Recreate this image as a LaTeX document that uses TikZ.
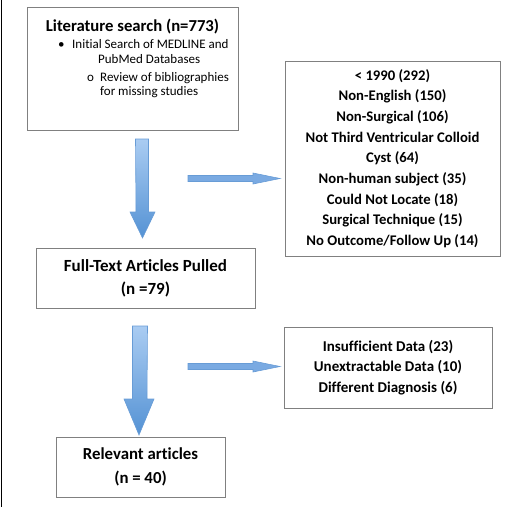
\documentclass[tikz,border=0pt]{standalone}
\usepackage{fontspec}
\setmainfont{Carlito}[Ligatures=NoCommon]
\usetikzlibrary{calc}
\definecolor{boxgray}{RGB}{128,128,128}
\definecolor{arrtop}{RGB}{170,204,242}
\definecolor{arrbot}{RGB}{84,146,212}
\definecolor{arrline}{RGB}{104,156,214}
\definecolor{thinarr}{RGB}{122,170,226}
\begin{document}
\begin{tikzpicture}[x=1pt, y=-1pt,
	box/.style={draw=boxgray, line width=0.9pt, fill=white, inner sep=0pt},
	bullettext/.style={font=\fontsize{13}{15}\selectfont, anchor=west, inner sep=0pt},
	bigarrow/.style={top color=arrtop, bottom color=arrbot, draw=arrline, line width=0.6pt},
	thinarrow/.style={fill=thinarr, draw=arrline, line width=0.6pt}]
	\useasboundingbox (0, 0) rectangle (515, 507);
	\draw[line width=1.5pt] (1.5, 0) -- (1.5, 507);

	% literature search
	\node[box, minimum width=211, minimum height=123] (lit) at (132.5, 68.5) {};
	\node[font=\fontsize{16.7}{19}\selectfont\bfseries] (littitle) at (132.5, 27) {Literature search (n=773)};
	\node[bullettext] (bula) at (58, 44) {\makebox[14pt][l]{\textbullet}Initial Search of MEDLINE and};
	\node[bullettext] (bulb) at (98, 59) {PubMed Databases};
	\node[bullettext] (bulc) at (87, 78) {\makebox[13pt][l]{o}Review of bibliographies};
	\node[bullettext] (buld) at (100, 92.5) {for missing studies};

	% exclusions
	\node[box, font=\fontsize{14.7}{20.7}\selectfont\bfseries, align=center, minimum width=215, minimum height=195] (excla) at (392.5, 158.5) {%
		< 1990 (292)\\ Non-English (150)\\ Non-Surgical (106)\\ Not Third Ventricular Colloid\\ Cyst (64)\\
		Non-human subject (35)\\ Could Not Locate (18)\\ Surgical Technique (15)\\ No Outcome/Follow Up (14)};
	\node[box, font=\fontsize{17}{23}\selectfont\bfseries, align=center, minimum width=219, minimum height=60] (full) at (145.5, 278) {Full-Text Articles Pulled\\ (n =79)};
	\node[box, font=\fontsize{15}{20.5}\selectfont\bfseries, align=center, minimum width=208, minimum height=81] (exclb) at (388, 367.5) {Insufficient Data (23)\\ Unextractable Data (10)\\ Different Diagnosis (6)};
	\node[box, font=\fontsize{16.8}{24}\selectfont\bfseries, align=center, minimum width=169, minimum height=60] (rel) at (140.5, 467) {Relevant articles\\ (n = 40)};

	% block arrows
	\coordinate (da) at (142, 139);
	\coordinate (db) at (142.5, 238);
	\shade[bigarrow] ($(da)+(-6.5,0)$) -- ($(da)+(6.5,0)$) -- ($(db)+(6,-26)$) -- ($(db)+(12.5,-26)$) -- (db)
		-- ($(db)+(-12.5,-26)$) -- ($(db)+(-6.5,-26)$) -- cycle;
	\coordinate (dc) at (140, 326);
	\coordinate (dd) at (139, 435);
	\shade[bigarrow] ($(dc)+(-7.5,0)$) -- ($(dc)+(7.5,0)$) -- ($(dd)+(8,-36)$) -- ($(dd)+(15,-36)$) -- (dd)
		-- ($(dd)+(-15,-36)$) -- ($(dd)+(-6.5,-36)$) -- cycle;

	\coordinate (ra) at (188, 178.5);
	\coordinate (rb) at (280, 178.5);
	\filldraw[thinarrow] ($(ra)+(0,-3)$) -- ($(rb)+(-27,-3)$) -- ($(rb)+(-27,-5.5)$) -- (rb)
		-- ($(rb)+(-27,5.5)$) -- ($(rb)+(-27,3)$) -- ($(ra)+(0,3)$) -- cycle;
	\coordinate (rc) at (188, 366.5);
	\coordinate (rd) at (280, 366.5);
	\filldraw[thinarrow] ($(rc)+(0,-3)$) -- ($(rd)+(-27,-3)$) -- ($(rd)+(-27,-5.5)$) -- (rd)
		-- ($(rd)+(-27,5.5)$) -- ($(rd)+(-27,3)$) -- ($(rc)+(0,3)$) -- cycle;
\end{tikzpicture}
\end{document}
